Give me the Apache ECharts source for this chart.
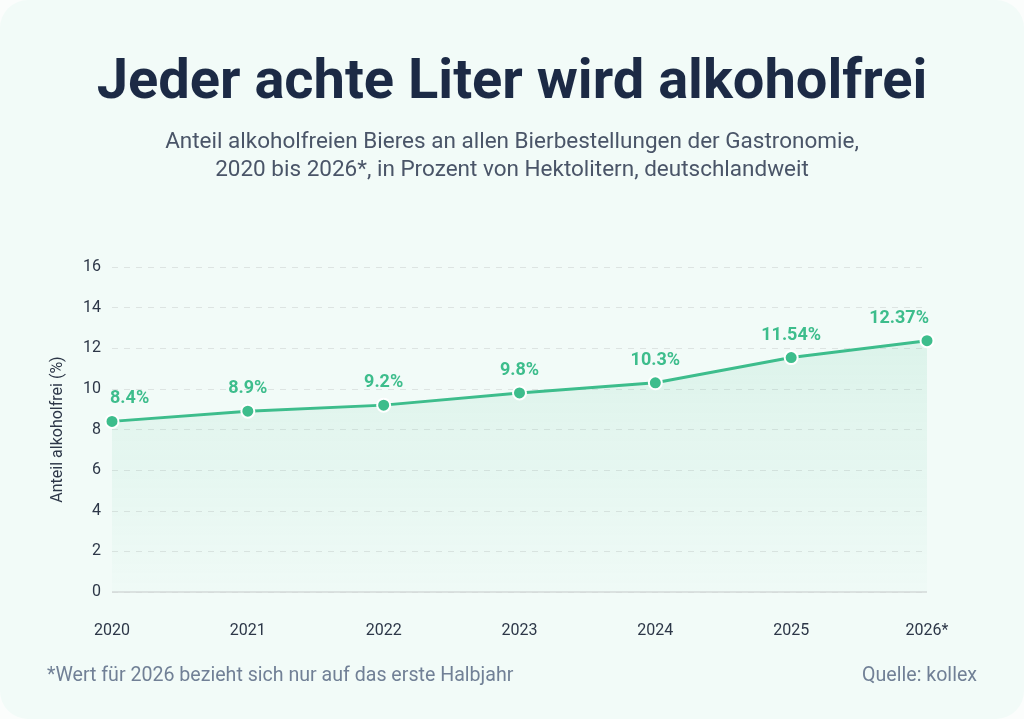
<!DOCTYPE html>
<html>
<head>
<meta charset="utf-8">
<script src="https://cdn.jsdelivr.net/npm/echarts@6/dist/echarts.min.js"></script>
<style>
  html, body { margin: 0; padding: 0; background: #fbfdfc; }
  #card { width: 1024px; height: 719px; border-radius: 28px; background: #f2fbf8; overflow: hidden; }
  #chart { width: 1024px; height: 719px; }
</style>
</head>
<body>
<div id="card"><div id="chart"></div></div>
<script>
// Daten: Anteil alkoholfreien Bieres (%)
var years = ['2020', '2021', '2022', '2023', '2024', '2025', '2026*'];
var shares = [8.4, 8.9, 9.2, 9.8, 10.3, 11.54, 12.37];
var shareLabels = ['8.4%', '8.9%', '9.2%', '9.8%', '10.3%', '11.54%', '12.37%'];

var green = '#3dbd8c';
var chart = echarts.init(document.getElementById('chart'), null, { renderer: 'canvas' });

var points = shares.map(function (v, i) {
  var item = { value: v };
  if (i === 0) item.label = { align: 'left', offset: [-2, 0] };
  if (i === shares.length - 1) item.label = { align: 'right', offset: [2, 0] };
  return item;
});

chart.setOption({
  backgroundColor: 'transparent',
  textStyle: { fontFamily: 'Roboto, "Noto Sans", sans-serif' },
  title: {
    text: 'Jeder achte Liter wird alkoholfrei',
    left: 'center', top: 51,
    textStyle: { fontSize: 56, fontWeight: 'bold', color: '#1c2a45', fontFamily: 'Roboto' }
  },
  graphic: [{
    type: 'text', left: 'center', top: 131,
    style: { text: 'Anteil alkoholfreien Bieres an allen Bierbestellungen der Gastronomie,', fontSize: 22.5, fill: '#4a5568', fontFamily: 'Roboto' }
  }, {
    type: 'text', left: 'center', top: 159,
    style: { text: '2020 bis 2026*, in Prozent von Hektolitern, deutschlandweit', fontSize: 22.5, fill: '#4a5568', fontFamily: 'Roboto' }
  }, {
    type: 'text', left: 47, top: 666,
    style: { text: '*Wert für 2026 bezieht sich nur auf das erste Halbjahr', fontSize: 19.6, fill: '#718096', fontFamily: 'Roboto' }
  }, {
    type: 'text', right: 47, top: 666,
    style: { text: 'Quelle: kollex', fontSize: 19.6, fill: '#718096', fontFamily: 'Roboto' }
  }],
  grid: { left: 112, right: 97, top: 267, bottom: 127 },
  xAxis: {
    type: 'category', data: years, boundaryGap: false,
    axisLine: { show: false }, axisTick: { show: false },
    axisLabel: { color: '#2d3748', fontSize: 16, margin: 31 }
  },
  yAxis: {
    type: 'value', min: 0, max: 16, interval: 2,
    name: 'Anteil alkoholfrei (%)', nameLocation: 'middle', nameGap: 46,
    nameTextStyle: { color: '#2d3748', fontSize: 16 },
    axisLine: { show: false }, axisTick: { show: false },
    axisLabel: { color: '#2d3748', fontSize: 16, margin: 11 },
    splitLine: { lineStyle: { color: '#dde4e2', type: [6, 6], width: 1 } }
  },
  series: [{
    type: 'line', data: points,
    symbol: 'circle', symbolSize: 13,
    lineStyle: { color: green, width: 3 },
    itemStyle: { color: green, borderColor: '#ffffff', borderWidth: 2 },
    areaStyle: {
      color: new echarts.graphic.LinearGradient(0, 0, 0, 1, [
        { offset: 0, color: 'rgba(61,189,140,0.17)' },
        { offset: 1, color: 'rgba(61,189,140,0.02)' }
      ])
    },
    label: {
      show: true, position: 'top', distance: 6,
      color: green, fontSize: 18, fontWeight: 'bold',
      formatter: function (p) { return shareLabels[p.dataIndex]; }
    },
    markLine: {
      silent: true, symbol: 'none', label: { show: false },
      lineStyle: { color: '#d3dad8', type: 'solid', width: 1.5 },
      data: [{ yAxis: 0 }]
    }
  }]
});
</script>
</body>
</html>
